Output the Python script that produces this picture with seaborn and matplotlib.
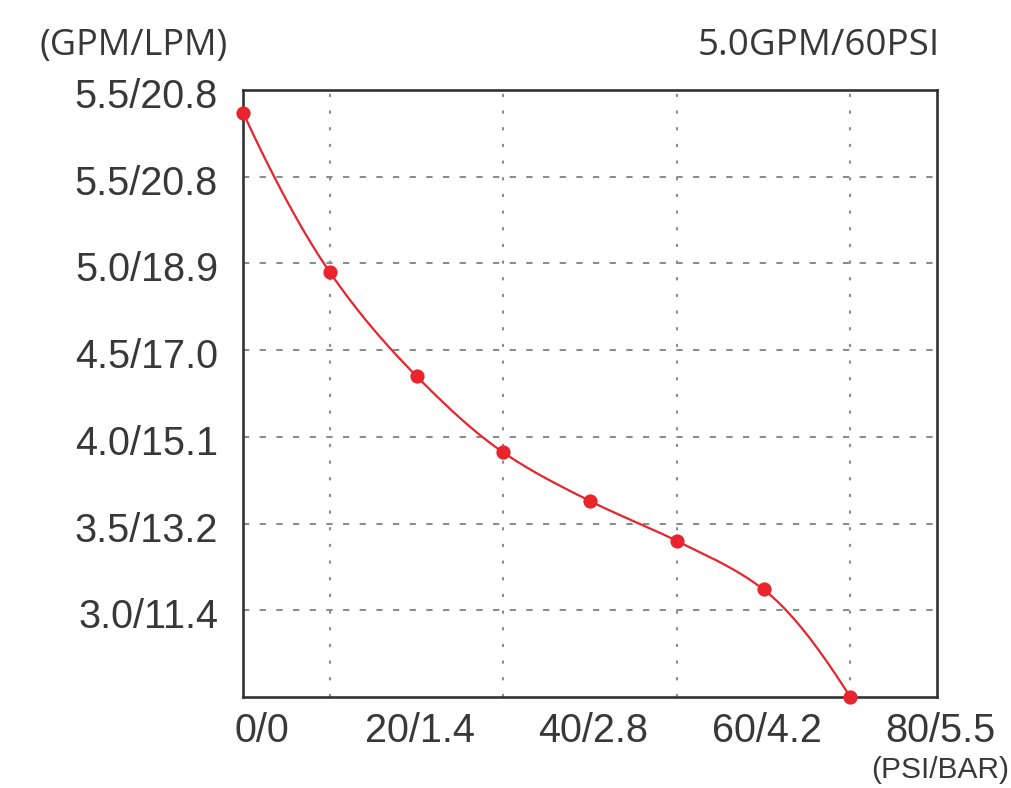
import numpy as np
import matplotlib
matplotlib.use("Agg")
import matplotlib.pyplot as plt
import matplotlib.transforms as mtransforms
import seaborn as sns

# Pressure (PSI) and flow (GPM) readings of the pump curve
pressure_psi = [0, 10, 20, 30, 40, 50, 60, 70]
flow_gpm = [5.87, 4.95, 4.35, 3.91, 3.63, 3.40, 3.12, 2.50]

x_ticks = [0, 20, 40, 60, 80]
x_labels = ["0/0", "20/1.4", "40/2.8", "60/4.2", "80/5.5"]
y_ticks = [3.0, 3.5, 4.0, 4.5, 5.0, 5.5, 6.0]
y_labels = ["3.0/11.4", "3.5/13.2", "4.0/15.1", "4.5/17.0", "5.0/18.9", "5.5/20.8", "5.5/20.8"]

RED = "#e8242c"
TEXT = "#383838"


def pchip(x, y, xq):
    """Monotone cubic Hermite curve through (x, y)."""
    x = np.asarray(x, float)
    y = np.asarray(y, float)
    h = np.diff(x)
    d = np.diff(y) / h
    m = np.zeros_like(y)
    for k in range(1, len(x) - 1):
        if d[k - 1] * d[k] > 0:
            w1 = 2 * h[k] + h[k - 1]
            w2 = h[k] + 2 * h[k - 1]
            m[k] = (w1 + w2) / (w1 / d[k - 1] + w2 / d[k])
    m[0] = ((2 * h[0] + h[1]) * d[0] - h[0] * d[1]) / (h[0] + h[1])
    m[-1] = ((2 * h[-1] + h[-2]) * d[-1] - h[-1] * d[-2]) / (h[-1] + h[-2])
    idx = np.clip(np.searchsorted(x, xq) - 1, 0, len(x) - 2)
    t = (xq - x[idx]) / h[idx]
    h00 = 2 * t**3 - 3 * t**2 + 1
    h10 = t**3 - 2 * t**2 + t
    h01 = -2 * t**3 + 3 * t**2
    h11 = t**3 - t**2
    return h00 * y[idx] + h10 * h[idx] * m[idx] + h01 * y[idx + 1] + h11 * h[idx] * m[idx + 1]


sns.set_theme(style="white")
plt.rcParams["font.family"] = ["Liberation Sans", "DejaVu Sans"]

fig = plt.figure(figsize=(10.12, 7.88), dpi=100)
ax = fig.add_axes([243 / 1012, 1 - 697 / 788, 694 / 1012, 607 / 788])

xs = np.linspace(pressure_psi[0], pressure_psi[-1], 300)
ys = pchip(pressure_psi, flow_gpm, xs)
sns.lineplot(x=xs, y=ys, ax=ax, color=RED, linewidth=1.6, zorder=3)
sns.scatterplot(x=pressure_psi, y=flow_gpm, ax=ax, color=RED, s=105,
                edgecolor=RED, linewidth=0, zorder=4, clip_on=False)

ax.set_xlim(0, 80)
ax.set_ylim(2.5, 6.0)
ax.set_xticks(x_ticks)
ax.set_xticklabels(x_labels)
ax.set_xticks(np.arange(10, 80, 10), minor=True)
ax.set_yticks(y_ticks)
ax.set_yticklabels(y_labels)

ax.grid(False)
ax.grid(which="minor", axis="x", color="#8c8c8c", linestyle=(0, (1.5, 6.5)), linewidth=1.5)
ax.grid(which="major", axis="y", color="#8c8c8c", linestyle=(0, (3, 5)), linewidth=1.5)

ax.tick_params(which="both", length=0)
ax.tick_params(axis="x", pad=11, labelsize=28.5, labelcolor=TEXT)
ax.tick_params(axis="y", pad=18, labelsize=28.5, labelcolor=TEXT)

# nudge tick labels slightly
for i, lab in enumerate(ax.get_xticklabels()):
    dx = 19 if i == 0 else 3
    lab.set_transform(lab.get_transform() + mtransforms.ScaledTranslation(dx / 100, 0, fig.dpi_scale_trans))
for lab in ax.get_yticklabels():
    lab.set_transform(lab.get_transform() + mtransforms.ScaledTranslation(0, -3 / 100, fig.dpi_scale_trans))

for sp in ax.spines.values():
    sp.set_visible(True)
    sp.set_color("#333333")
    sp.set_linewidth(1.9)

fig.text(40 / 1012, 1 - 46 / 788, "(GPM/LPM)", fontsize=26, color=TEXT,
         family=["Open Sans", "DejaVu Sans"], ha="left", va="center")
fig.text(940 / 1012, 1 - 46 / 788, "5.0GPM/60PSI", fontsize=26.5, color=TEXT,
         family=["Open Sans", "DejaVu Sans"], ha="right", va="center")
fig.text(1009 / 1012, 1 - 770 / 788, "(PSI/BAR)", fontsize=21.5, color=TEXT,
         ha="right", va="center")

fig.savefig("out.png", dpi=100, facecolor="white")
